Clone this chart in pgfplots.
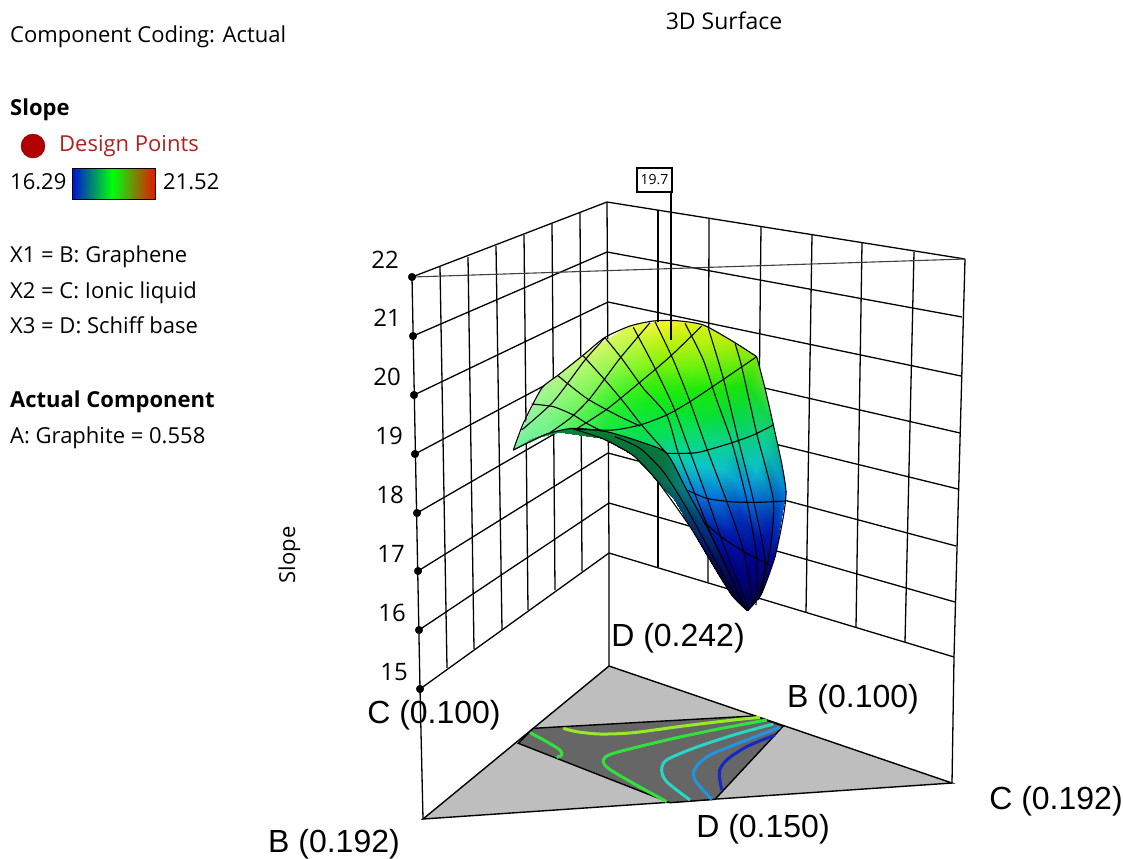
\documentclass[border=0pt]{standalone}
\usepackage{pgfplots}
\usepackage{pgfplotstable}
\usepackage{fontspec}
\pgfplotsset{compat=1.18}
\setmainfont{Open Sans}
\newfontfamily\arialf{Liberation Sans}
\definecolor{basegray}{RGB}{190,190,190}
\definecolor{regiongray}{RGB}{102,102,102}
\definecolor{dpfill}{RGB}{178,0,0}
\definecolor{dpdraw}{RGB}{120,0,0}
\definecolor{dptext}{RGB}{176,32,32}
\definecolor{c1}{RGB}{150,235,40}
\definecolor{c2}{RGB}{50,225,60}
\definecolor{c3}{RGB}{40,215,195}
\definecolor{c4}{RGB}{30,150,225}
\definecolor{c5}{RGB}{20,40,200}
\pgfplotstableread{
cx cy r g b
70 450 0.45 0.95 0.65
70 450 0.45 0.95 0.65
70 450 0.45 0.95 0.65
70 450 0.45 0.95 0.65
70 450 0.45 0.95 0.65
70 450 0.45 0.95 0.65
70 450 0.45 0.95 0.65
155 265 0.65 0.97 0.55
158 288 0.62 0.97 0.55
160 311 0.58 0.97 0.55
162 334 0.55 0.96 0.55
165 357 0.50 0.96 0.55
167 380 0.47 0.95 0.55
170 402 0.45 0.95 0.55
280 165 0.80 0.97 0.45
275 202 0.72 0.97 0.45
270 238 0.62 0.97 0.42
265 275 0.55 0.97 0.40
260 312 0.47 0.96 0.38
255 348 0.38 0.95 0.36
250 385 0.30 0.95 0.35
420 78 0.90 0.97 0.30
408 131 0.75 0.97 0.30
397 184 0.60 0.97 0.25
385 236 0.42 0.96 0.22
373 289 0.25 0.95 0.18
362 342 0.15 0.92 0.20
350 395 0.10 0.90 0.25
540 62 0.98 0.95 0.15
525 123 0.75 0.95 0.05
510 183 0.55 0.95 0.05
495 244 0.25 0.93 0.05
480 304 0.08 0.92 0.10
465 365 0.04 0.90 0.25
450 425 0.04 0.85 0.35
640 75 0.85 0.95 0.10
622 139 0.68 0.95 0.05
603 203 0.42 0.95 0.05
585 268 0.12 0.92 0.05
567 332 0.03 0.90 0.15
548 396 0.03 0.88 0.35
530 460 0.04 0.82 0.60
730 125 0.70 0.93 0.05
707 199 0.40 0.93 0.05
683 273 0.10 0.90 0.05
660 348 0.03 0.88 0.20
637 422 0.04 0.85 0.50
613 496 0.05 0.78 0.78
590 570 0.03 0.50 0.85
800 170 0.50 0.90 0.05
775 255 0.10 0.88 0.05
750 340 0.03 0.85 0.25
725 425 0.04 0.82 0.55
700 510 0.05 0.75 0.80
675 595 0.02 0.45 0.85
650 680 0.00 0.12 0.65
850 375 0.04 0.82 0.40
825 443 0.05 0.80 0.65
800 510 0.05 0.75 0.80
775 578 0.02 0.50 0.88
750 645 0.00 0.20 0.72
725 713 0.00 0.08 0.65
700 780 0.00 0.00 0.55
888 575 0.02 0.50 0.88
864 626 0.00 0.28 0.78
840 677 0.00 0.12 0.68
817 728 0.00 0.05 0.62
793 778 0.00 0.00 0.55
769 829 0.00 0.00 0.48
745 880 0.00 0.00 0.40
855 770 0.00 0.03 0.60
841 797 0.00 0.00 0.55
827 823 0.00 0.00 0.50
813 850 0.00 0.00 0.45
798 877 0.00 0.00 0.40
784 903 0.00 0.00 0.35
770 930 0.00 0.00 0.30
815 880 0.00 0.00 0.42
808 888 0.00 0.00 0.40
800 897 0.00 0.00 0.38
793 905 0.00 0.00 0.35
786 914 0.00 0.00 0.33
780 922 0.00 0.00 0.30
775 930 0.00 0.00 0.28
}\surfacetable
\pgfplotstableread{
cx cy r g b
70 450 0.35 0.85 0.55
70 450 0.35 0.85 0.55
170 402 0.25 0.75 0.40
125 418 0.25 0.75 0.40
250 385 0.05 0.50 0.22
200 395 0.05 0.50 0.22
350 395 0.03 0.50 0.20
340 415 0.03 0.45 0.20
450 425 0.03 0.48 0.22
430 465 0.03 0.42 0.22
530 460 0.03 0.48 0.25
505 545 0.03 0.40 0.28
590 570 0.03 0.50 0.50
555 600 0.02 0.32 0.40
650 680 0.00 0.22 0.50
625 720 0.00 0.12 0.42
700 780 0.00 0.08 0.42
672 800 0.00 0.03 0.32
745 880 0.00 0.00 0.32
725 885 0.00 0.00 0.25
770 930 0.00 0.00 0.25
770 930 0.00 0.00 0.25
}\undersidetable
\pgfplotstableread{
px py r g b
72 168 0.00 0.05 0.85
113 168 0.00 1.00 0.05
155 168 0.90 0.10 0.00
72 199 0.00 0.05 0.85
113 199 0.00 1.00 0.05
155 199 0.90 0.10 0.00
}\barTable
\newcommand{\mline}[1]{\addplot[black,line width=1.1pt,smooth,tension=0.4,x filter/.expression={490+x/3},y filter/.expression={300+y/3}] coordinates {#1};}
\newcommand{\contline}[2]{\addplot[color=#1,line width=3pt,smooth,x filter/.expression={400+x/3},y filter/.expression={640+y/3}] coordinates {#2};}
\pgfplotsset{wall/.style={black,line width=1.3pt}}
\begin{document}
\begin{tikzpicture}
\begin{axis}[
  scale only axis,width=1123pt,height=858pt,
  xmin=0,xmax=1123,ymin=0,ymax=858,y dir=reverse,
  hide axis,clip=false]
\path (axis cs:0,0) rectangle (axis cs:1123,858);
% base
\addplot[fill=basegray,draw=black,line width=1.4pt] coordinates {(609,666)(423,819)(952,783)} --cycle;
\addplot[fill=regiongray,draw=black,line width=1.4pt] coordinates {(533.3,728.3)(518.3,743.3)(670,802.7)(715,799.3)(783.3,726)(753.3,716)} --cycle;
% contour lines
\contline{c1}{(490,265)(530,275)(600,282)(700,278)(850,258)(1000,240)(1080,232)}
\contline{c2}{(390,278)(440,305)(480,330)(485,345)(470,352)}
\contline{c2}{(1100,240)(950,268)(800,300)(640,340)(610,360)(625,385)(700,430)(800,485)}
\contline{c3}{(1120,252)(1000,285)(880,325)(800,360)(785,390)(800,425)(870,480)}
\contline{c4}{(1140,262)(1040,300)(930,345)(885,385)(885,420)(935,478)}
\contline{c5}{(1125,285)(1040,320)(980,360)(958,395)(965,450)}
% risers
\addplot[wall] coordinates {(412,277)(420,689)(423,819)};
\addplot[wall] coordinates {(607,202)(609,553)(609,666)};
\addplot[wall] coordinates {(965,259)(954,657)(952,783)};
% left wall levels
\addplot[wall] coordinates {(412,277)(607,202)};
\addplot[wall] coordinates {(413,336)(607,252)};
\addplot[wall] coordinates {(414,395)(608,302)};
\addplot[wall] coordinates {(415,454)(608,352)};
\addplot[wall] coordinates {(417,513)(608,403)};
\addplot[wall] coordinates {(418,571)(608,453)};
\addplot[wall] coordinates {(419,630)(609,503)};
\addplot[wall] coordinates {(420,689)(609,553)};
% right wall levels
\addplot[wall] coordinates {(607,202)(965,259)};
\addplot[wall] coordinates {(607,252)(962,317)};
\addplot[wall] coordinates {(608,302)(961,376)};
\addplot[wall] coordinates {(608,352)(960,433)};
\addplot[wall] coordinates {(608,403)(958,489)};
\addplot[wall] coordinates {(608,453)(956,546)};
\addplot[wall] coordinates {(609,503)(955,602)};
\addplot[wall] coordinates {(609,553)(954,657)};
% left wall verticals
\addplot[wall] coordinates {(440,267)(447,668)};
\addplot[wall] coordinates {(468,257)(474,649)};
\addplot[wall] coordinates {(496,246)(502,630)};
\addplot[wall] coordinates {(524,235)(528,610)};
\addplot[wall] coordinates {(552,224)(555,590)};
\addplot[wall] coordinates {(580,213)(582,571)};
% right wall verticals
\addplot[wall] coordinates {(658,210)(658,567)};
\addplot[wall] coordinates {(709,218)(708,582)};
\addplot[wall] coordinates {(761,226)(757,597)};
\addplot[wall] coordinates {(812,235)(806,612)};
\addplot[wall] coordinates {(862,243)(856,627)};
\addplot[wall] coordinates {(914,252)(905,642)};
% thin diagonal
\addplot[black!75,line width=1.1pt] coordinates {(412,277)(965,259)};
% tick dots
\addplot[only marks,mark=*,mark size=3.8pt,black] coordinates {(412,277)(413,336)(414,395)(415,454)(417,513)(418,571)(419,630)(420,689)};
% surface
\addplot[surf,shader=interp,mesh/cols=7,mesh/rows=12,mesh/color input=explicit mathparse,
  point meta={symbolic={\thisrow{r},\thisrow{g},\thisrow{b}}}]
  table[x expr=490+\thisrow{cx}/3,y expr=300+\thisrow{cy}/3] {\surfacetable};
\addplot[surf,shader=interp,mesh/cols=2,mesh/rows=11,mesh/color input=explicit mathparse,
  point meta={symbolic={\thisrow{r},\thisrow{g},\thisrow{b}}}]
  table[x expr=490+\thisrow{cx}/3,y expr=300+\thisrow{cy}/3] {\undersidetable};
% mesh arcs
\mline{(95,390)(190,305)(285,180)(345,113)}
\mline{(180,398)(240,355)(300,295)(390,175)(480,68)}
\mline{(262,385)(350,328)(440,255)(540,170)(635,78)}
\mline{(262,388)(370,390)(450,375)(530,345)(600,305)(690,245)(800,170)}
\mline{(530,460)(620,458)(720,430)(790,405)(850,375)}
\mline{(595,572)(650,595)(720,605)(800,607)(887,603)}
\mline{(640,665)(700,715)(770,760)(840,795)}
\mline{(125,312)(190,320)(250,345)(290,370)(335,393)}
\mline{(205,228)(290,295)(380,345)(450,378)}
\mline{(280,168)(345,240)(400,305)(455,375)(530,460)}
% fan lines
\mline{(345,113)(395,175)(460,265)(530,345)(565,460)(610,570)(670,720)(770,930)}
\mline{(430,82)(495,205)(550,320)(600,455)(650,590)(710,760)(775,925)}
\mline{(495,65)(550,180)(600,305)(650,445)(705,590)(760,750)(790,915)}
\mline{(585,70)(640,180)(680,300)(725,425)(770,600)(800,770)(798,915)}
\mline{(655,85)(700,235)(745,420)(790,600)(825,780)(805,900)}
\mline{(735,130)(755,200)(800,400)(850,600)(840,750)(810,890)}
% underside mesh
\mline{(375,410)(450,445)(520,515)(590,625)(680,790)(735,885)}
\mline{(250,387)(340,417)(430,467)(505,547)(600,680)(660,780)(725,885)(770,930)}
% outline
\mline{(70,450)(100,370)(155,265)(205,225)(280,165)(345,112)(420,78)(490,63)(560,62)(640,75)(730,125)(800,170)}
\mline{(800,170)(825,265)(850,375)(875,490)(888,575)(880,650)(855,770)(815,880)(775,930)}
\mline{(70,450)(170,402)(250,385)(350,395)(450,425)(530,460)(590,570)(650,680)(700,780)(745,880)(770,930)}
% stick and flag
\addplot[black,line width=1.2pt] coordinates {(671,192)(671,340)};
\addplot[fill=white,draw=black,line width=1.2pt] coordinates {(637,168)(672,168)(672,192)(637,192)} --cycle;
% legend
\addplot[only marks,mark=*,mark size=12pt,mark options={fill=dpfill,draw=dpdraw}] coordinates {(33,146)};
\addplot[surf,shader=interp,mesh/cols=3,mesh/rows=2,mesh/color input=explicit mathparse,
  point meta={symbolic={\thisrow{r},\thisrow{g},\thisrow{b}}}]
  table[x=px,y=py] {\barTable};
\addplot[draw=black,line width=1pt] coordinates {(72,168)(155,168)(155,199)(72,199)} --cycle;
\def\tf{\fontsize{22}{26}\selectfont}
\node[anchor=base west,inner sep=0] at (axis cs:10,42) {\tf Component Coding: Actual};
\node[anchor=base] at (axis cs:724,29) {\fontsize{23}{26}\selectfont 3D Surface};
\node[anchor=base west,inner sep=0] at (axis cs:10,115) {\tf\bfseries Slope};
\node[anchor=base west,inner sep=0,text=dptext] at (axis cs:59,151) {\tf Design Points};
\node[anchor=base west,inner sep=0] at (axis cs:10,189) {\tf 16.29};
\node[anchor=base west,inner sep=0] at (axis cs:163,189) {\tf 21.52};
\node[anchor=base west,inner sep=0] at (axis cs:10,262) {\tf X1 = B: Graphene};
\node[anchor=base west,inner sep=0] at (axis cs:10,298) {\tf X2 = C: Ionic liquid};
\node[anchor=base west,inner sep=0] at (axis cs:10,333) {\tf X3 = D: Schiff base};
\node[anchor=base west,inner sep=0] at (axis cs:10,407) {\tf\bfseries Actual Component};
\node[anchor=base west,inner sep=0] at (axis cs:10,443) {\tf A: Graphite = 0.558};
\node[anchor=base,rotate=90,inner sep=0] at (axis cs:295,555) {\tf Slope};
\def\nf{\fontsize{24}{27}\selectfont}
\node[anchor=center] at (axis cs:385,260) {\nf 22};
\node[anchor=center] at (axis cs:387,318) {\nf 21};
\node[anchor=center] at (axis cs:387,377) {\nf 20};
\node[anchor=center] at (axis cs:389,436) {\nf 19};
\node[anchor=center] at (axis cs:390,495) {\nf 18};
\node[anchor=center] at (axis cs:391,554) {\nf 17};
\node[anchor=center] at (axis cs:392,613) {\nf 16};
\node[anchor=center] at (axis cs:394,672) {\nf 15};
\node[anchor=center,inner sep=0] at (axis cs:654.5,180) {\fontsize{14}{16}\selectfont 19.7};
\def\lf{\arialf\fontsize{32}{35}\selectfont}
\node[anchor=center,inner sep=0] at (axis cs:678,638) {\lf D (0.242)};
\node[anchor=center,inner sep=0] at (axis cs:853,699) {\lf B (0.100)};
\node[anchor=center,inner sep=0] at (axis cs:434,715) {\lf C (0.100)};
\node[anchor=center,inner sep=0] at (axis cs:1056,801) {\lf C (0.192)};
\node[anchor=center,inner sep=0] at (axis cs:763,829) {\lf D (0.150)};
\node[anchor=center,inner sep=0] at (axis cs:334,844) {\lf B (0.192)};
\end{axis}
\end{tikzpicture}
\end{document}
